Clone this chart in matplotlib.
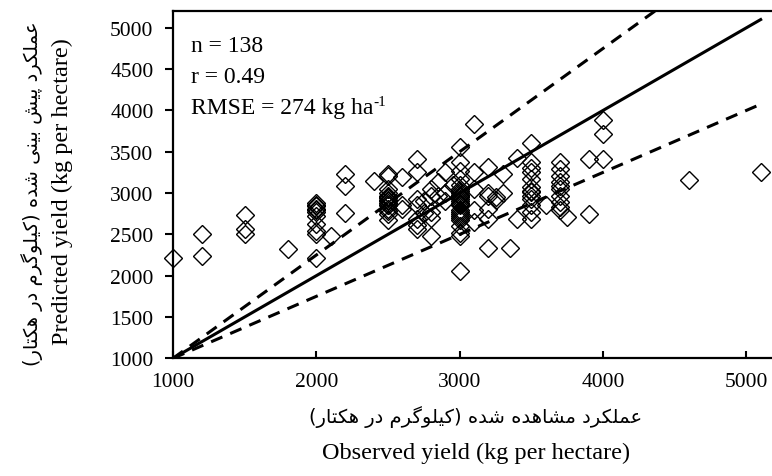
import matplotlib
matplotlib.use("Agg")
import matplotlib.pyplot as plt

# observed / predicted yield, kg per hectare
obs_yield = [
    1000,
    1200, 1200,
    1500, 1500, 1500,
    1800,
    2000, 2000, 2000, 2000, 2000, 2000, 2000, 2000, 2000, 2000, 2000,
    2100,
    2200, 2200, 2200,
    2400,
    2500, 2500, 2500, 2500, 2500, 2500, 2500, 2500, 2500, 2500, 2500, 2500, 2500, 2500, 2500, 2500,
    2600, 2600, 2600,
    2700, 2700, 2700, 2700, 2700, 2700, 2700,
    2750, 2750,
    2800, 2800, 2800, 2800, 2800,
    2850, 2850,
    2900, 2900, 2900,
    2950,
    3000, 3000, 3000, 3000, 3000, 3000, 3000, 3000, 3000, 3000, 3000, 3000, 3000,
    3000, 3000, 3000, 3000, 3000, 3000, 3000, 3000, 3000, 3000, 3000, 3000, 3000,
    3100, 3100, 3100, 3100, 3100,
    3200, 3200, 3200, 3200, 3200, 3200,
    3250, 3250,
    3300, 3300,
    3350,
    3400, 3400,
    3500, 3500, 3500, 3500, 3500, 3500, 3500, 3500, 3500, 3500, 3500, 3500, 3500,
    3600,
    3700, 3700, 3700, 3700, 3700, 3700, 3700, 3700, 3700, 3700,
    3750,
    3900, 3900,
    4000, 4000, 4000,
    4600,
    5100,
]
pred_yield = [
    2210,
    2500, 2240,
    2730, 2560, 2500,
    2320,
    2880, 2860, 2840, 2810, 2790, 2770, 2720, 2620, 2540, 2500, 2220,
    2480,
    3230, 3080, 2760,
    3140,
    3230, 3210, 3050, 3000, 2970, 2940, 2920, 2900, 2880, 2860, 2850, 2810, 2780, 2750, 2670, 2950,
    3190, 2850, 2810,
    3410, 3250, 2930, 2850, 2690, 2610, 2570,
    2900, 2760,
    3050, 2970, 2770, 2700, 2480,
    3130, 2970,
    3250, 3000, 2900,
    3100,
    3560, 3370, 3270, 3170, 3100, 3050, 3020, 3000, 2980, 2970, 2950, 2930, 2900,
    2880, 2870, 2850, 2800, 2770, 2750, 2720, 2700, 2680, 2600, 2520, 2480, 2060,
    3830, 3250, 3050, 2800, 2650,
    3310, 3000, 2970, 2810, 2690, 2340,
    2950, 2910,
    3230, 3000,
    2340,
    3430, 2690,
    3610, 3370, 3300, 3250, 3170, 3070, 3030, 2970, 2930, 2850, 2770, 2690, 3010,
    2860,
    3370, 3290, 3210, 3130, 3050, 3080, 2970, 2890, 2830, 2800,
    2710,
    3410, 2750,
    3890, 3710, 3410,
    3160,
    3250,
]

line_x = [1000, 5100]
one_to_one = [1000, 5100]
upper_band = [1000, 6125]   # 1000 + 1.25 * (x - 1000)
lower_band = [1000, 4075]   # 1000 + 0.75 * (x - 1000)

x_ticks = [1000, 2000, 3000, 4000, 5000]
y_ticks = [1000, 1500, 2000, 2500, 3000, 3500, 4000, 4500, 5000]

stats_lines = ["n = 138", "r = 0.49", "RMSE = 274 kg ha"]
rmse_unit_sup = "-1"

x_label_en = "Observed yield (kg per hectare)"
y_label_en = "Predicted yield (kg per hectare)"
x_label_fa = "عملکرد مشاهده شده (کیلوگرم در هکتار)"
y_label_fa = "عملکرد پیش بینی شده (کیلوگرم در هکتار)"

# matplotlib does no arabic shaping, so pick the presentation forms by hand
FA_FORMS = {
    '\u0627': (0xFE8D, 0xFE8E),
    '\u0628': (0xFE8F, 0xFE90, 0xFE91, 0xFE92),
    '\u067E': (0xFB56, 0xFB57, 0xFB58, 0xFB59),
    '\u062A': (0xFE95, 0xFE96, 0xFE97, 0xFE98),
    '\u062F': (0xFEA9, 0xFEAA),
    '\u0631': (0xFEAD, 0xFEAE),
    '\u0634': (0xFEB5, 0xFEB6, 0xFEB7, 0xFEB8),
    '\u0639': (0xFEC9, 0xFECA, 0xFECB, 0xFECC),
    '\u06A9': (0xFB8E, 0xFB8F, 0xFB90, 0xFB91),
    '\u0643': (0xFB8E, 0xFB8F, 0xFB90, 0xFB91),
    '\u06AF': (0xFB92, 0xFB93, 0xFB94, 0xFB95),
    '\u0644': (0xFEDD, 0xFEDE, 0xFEDF, 0xFEE0),
    '\u0645': (0xFEE1, 0xFEE2, 0xFEE3, 0xFEE4),
    '\u0646': (0xFEE5, 0xFEE6, 0xFEE7, 0xFEE8),
    '\u0647': (0xFEE9, 0xFEEA, 0xFEEB, 0xFEEC),
    '\u0648': (0xFEED, 0xFEEE),
    '\u06CC': (0xFBFC, 0xFBFD, 0xFBFE, 0xFBFF),
    '\u064A': (0xFBFC, 0xFBFD, 0xFBFE, 0xFBFF),
}


def farsi(s):
    out = []
    for i, ch in enumerate(s):
        f = FA_FORMS.get(ch)
        if f is None:
            out.append(ch)
            continue
        prev = FA_FORMS.get(s[i - 1]) if i > 0 else None
        nxt = FA_FORMS.get(s[i + 1]) if i + 1 < len(s) else None
        join_prev = prev is not None and len(prev) == 4
        join_next = len(f) == 4 and nxt is not None
        if join_prev and join_next:
            c = f[3]
        elif join_prev:
            c = f[1]
        elif join_next:
            c = f[2]
        else:
            c = f[0]
        out.append(chr(c))
    mirror = {'(': ')', ')': '('}
    return ''.join(mirror.get(c, c) for c in reversed(out))


plt.rcParams['font.family'] = ['Liberation Serif', 'DejaVu Sans']

W, H = 772, 477
fig = plt.figure(figsize=(W / 100, H / 100), dpi=100)
ax = fig.add_axes([173 / W, 117.7 / H, 602 / W, 347 / H])

ax.plot(obs_yield, pred_yield, linestyle='none', marker='D', markersize=9.3,
        markerfacecolor='none', markeredgecolor='black', markeredgewidth=1.0,
        clip_on=False, zorder=2)

ax.plot(line_x, one_to_one, color='black', lw=2.2, zorder=3)
ax.plot(line_x, upper_band, color='black', lw=2.2, dashes=(4, 2.8), zorder=3)
ax.plot(line_x, lower_band, color='black', lw=2.2, dashes=(4, 2.8), zorder=3)

ax.set_xlim(1000, 5200)
ax.set_ylim(1000, 5200)
ax.set_xticks(x_ticks)
ax.set_yticks(y_ticks)
ax.tick_params(axis='y', direction='out', length=5.5, width=1.5, labelsize=15.5, pad=8.5)
ax.tick_params(axis='x', direction='in', length=5, width=1.5, labelsize=15.5, pad=10)
for sp in ax.spines.values():
    sp.set_linewidth(1.6)
ax.spines['right'].set_visible(False)

for i, txt in enumerate(stats_lines):
    t = ax.text(0.03, 0.90 - i * 0.089, txt, transform=ax.transAxes, fontsize=17,
                va='center', ha='left')
ax.annotate(rmse_unit_sup, xy=(1.0, 0.78), xycoords=t, fontsize=11,
            va='center', ha='left')

fig.text(476 / W, 1 - 417 / H, farsi(x_label_fa), family='DejaVu Sans', fontsize=14,
         ha='center', va='center')
fig.text(476 / W, 1 - 453 / H, x_label_en, fontsize=17.5, ha='center', va='center')
fig.text(32 / W, 1 - 194 / H, farsi(y_label_fa), family='DejaVu Sans', fontsize=14,
         ha='center', va='center', rotation=90)
fig.text(62 / W, 1 - 192 / H, y_label_en, fontsize=17.5, ha='center', va='center',
         rotation=90)

fig.savefig('out.png', dpi=100)
